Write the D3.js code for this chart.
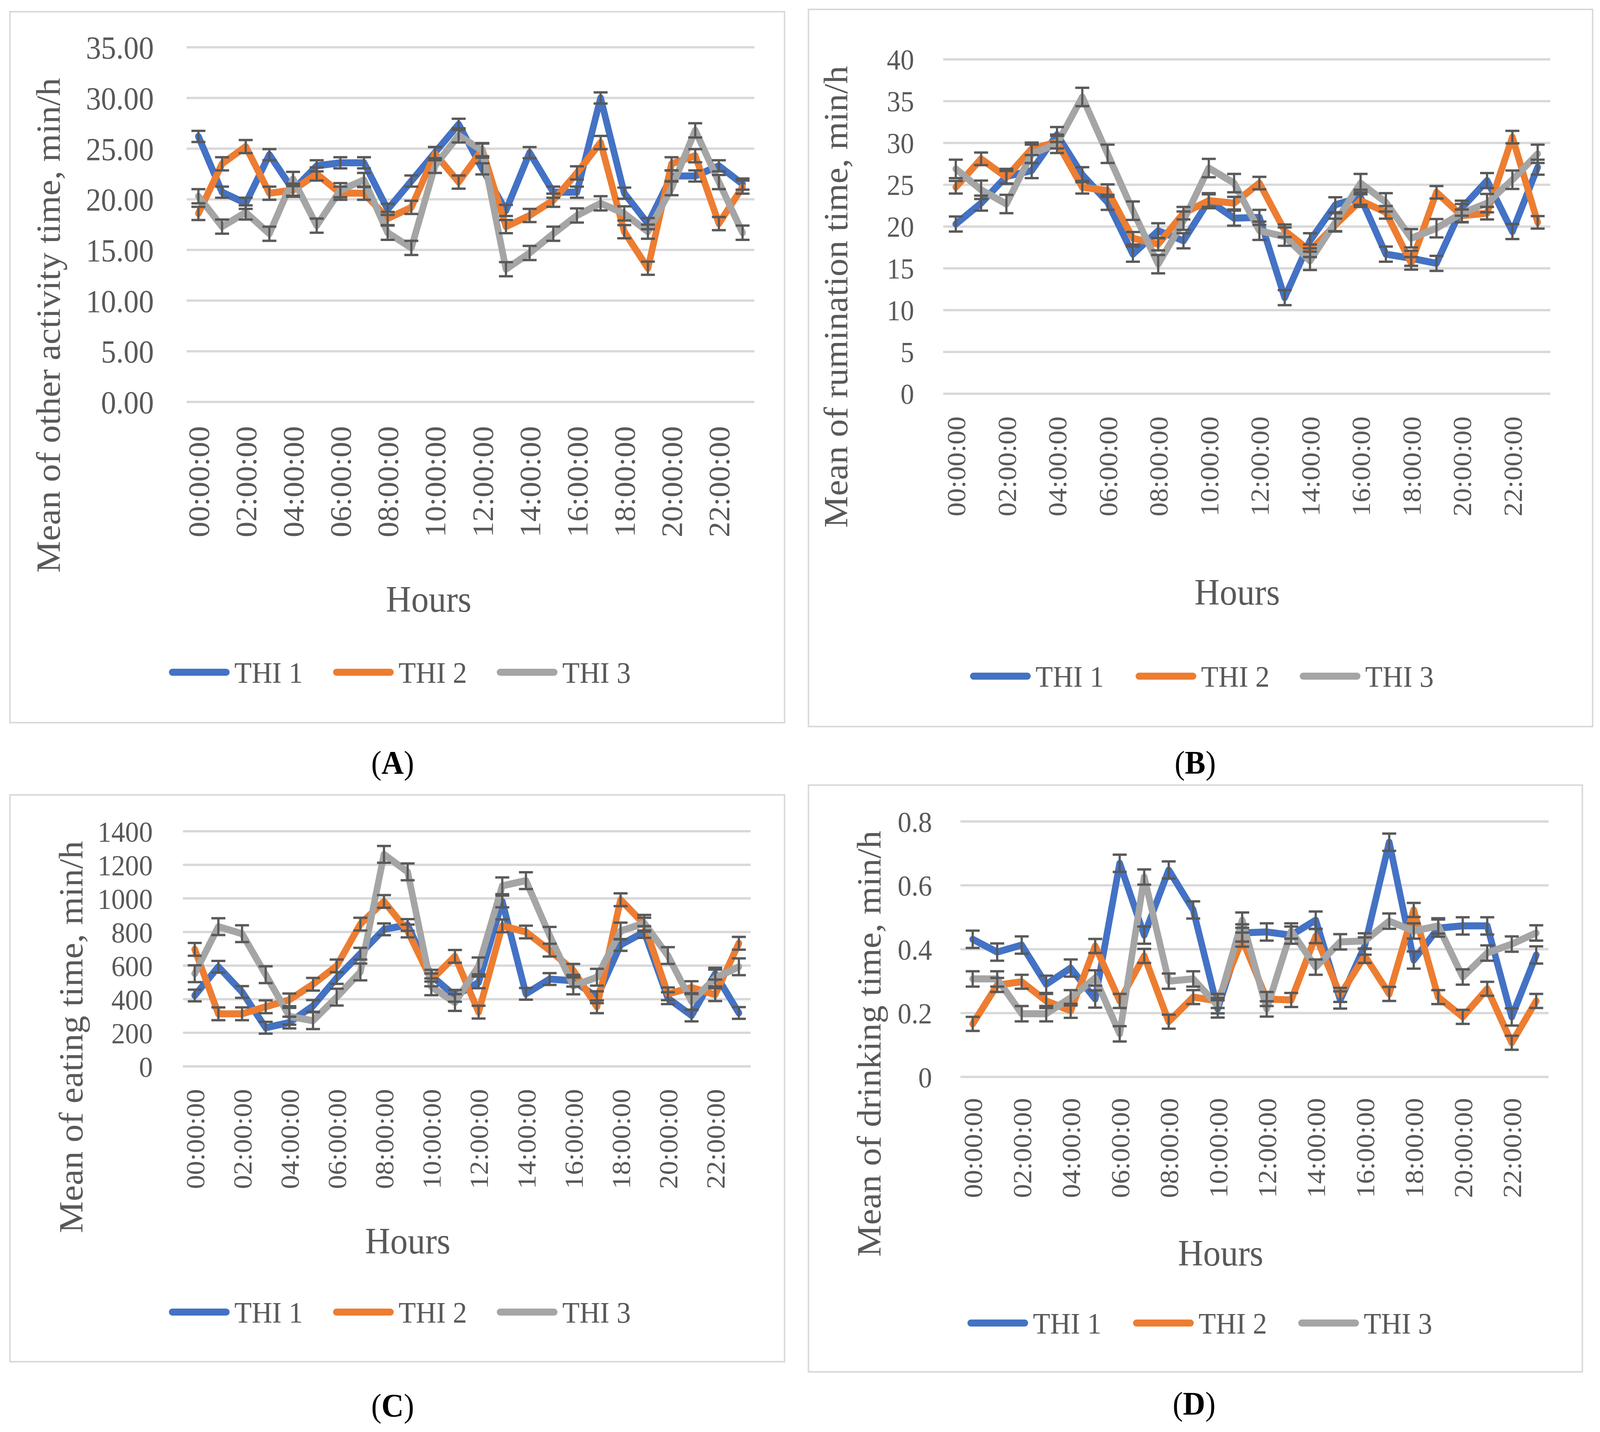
<!DOCTYPE html>
<html>
<head>
<meta charset="utf-8">
<script src="https://cdn.jsdelivr.net/npm/d3@7/dist/d3.min.js"></script>
<style>
  html, body { margin: 0; padding: 0; background: #ffffff; overflow: hidden; }
  svg { display: block; width: 100vw; height: 100vh; }
</style>
</head>
<body>
<svg id="chart" viewBox="0 0 4348 3666" preserveAspectRatio="none"></svg>
<script>
// ---------------- data ----------------
const hours = ["00:00:00","01:00:00","02:00:00","03:00:00","04:00:00","05:00:00","06:00:00","07:00:00",
  "08:00:00","09:00:00","10:00:00","11:00:00","12:00:00","13:00:00","14:00:00","15:00:00",
  "16:00:00","17:00:00","18:00:00","19:00:00","20:00:00","21:00:00","22:00:00","23:00:00"];
const hourTickLabels = ["00:00:00","02:00:00","04:00:00","06:00:00","08:00:00","10:00:00",
  "12:00:00","14:00:00","16:00:00","18:00:00","20:00:00","22:00:00"];
const seriesNames = ["THI 1", "THI 2", "THI 3"];

// (A) other activity time
const otherTHI1 = [26.2, 20.7, 19.6, 24.4, 20.9, 23.3, 23.6, 23.6, 19.0, 21.8, 24.6, 27.4, 23.0, 18.9, 24.6, 20.7, 20.7, 30.0, 20.6, 17.6, 22.3, 22.3, 23.3, 21.5];
const otherTHI2 = [18.6, 23.5, 25.2, 20.6, 20.9, 22.5, 20.6, 20.6, 18.1, 19.2, 24.5, 21.7, 24.9, 17.3, 18.4, 19.9, 22.6, 25.6, 16.8, 13.2, 23.5, 24.3, 17.6, 21.2];
const otherTHI3 = [20.3, 17.3, 18.7, 16.6, 22.0, 17.4, 20.9, 21.9, 16.7, 15.2, 23.3, 26.3, 24.8, 13.1, 14.7, 16.6, 18.4, 19.6, 18.6, 16.8, 21.1, 26.8, 21.7, 16.7];
const otherErr = [0.55, 0.65, 0.7];
const otherTicks = [0, 5, 10, 15, 20, 25, 30, 35];

// (B) rumination time
const rumTHI1 = [20.3, 22.8, 26.0, 26.7, 31.0, 26.2, 22.9, 16.7, 19.5, 18.3, 23.1, 21.0, 21.1, 11.5, 18.3, 22.6, 23.5, 16.7, 16.2, 15.6, 22.2, 25.5, 19.4, 27.1];
const rumTHI2 = [24.7, 28.1, 25.9, 29.3, 30.1, 24.7, 24.3, 18.6, 17.9, 21.6, 23.1, 22.8, 25.2, 19.5, 17.1, 20.2, 23.1, 21.7, 15.6, 24.1, 21.3, 21.6, 30.7, 20.5];
const rumTHI3 = [26.9, 24.4, 22.7, 28.7, 29.9, 35.5, 28.7, 21.9, 15.5, 20.7, 27.0, 25.2, 19.5, 18.8, 15.9, 20.5, 25.2, 22.9, 18.6, 19.8, 21.6, 22.8, 25.6, 28.7];
const rumErr = [0.9, 0.75, 1.1];
const rumTicks = [0, 5, 10, 15, 20, 25, 30, 35, 40];

// (C) eating time
const eatTHI1 = [422, 593, 443, 230, 261, 360, 526, 671, 816, 842, 540, 420, 500, 982, 432, 520, 510, 412, 723, 800, 406, 303, 552, 318];
const eatTHI2 = [697, 313, 313, 355, 396, 489, 598, 847, 982, 806, 515, 655, 323, 837, 800, 692, 572, 355, 992, 847, 432, 469, 427, 733];
const eatTHI3 = [552, 832, 790, 546, 298, 272, 412, 562, 1262, 1158, 474, 380, 598, 1075, 1106, 780, 479, 531, 806, 852, 660, 386, 526, 593];
const eatErr = [35, 38, 50];
const eatTicks = [0, 200, 400, 600, 800, 1000, 1200, 1400];

// (D) drinking time
const drinkTHI1 = [0.431, 0.391, 0.413, 0.290, 0.341, 0.244, 0.669, 0.444, 0.648, 0.523, 0.213, 0.451, 0.454, 0.444, 0.491, 0.241, 0.410, 0.735, 0.366, 0.466, 0.473, 0.473, 0.188, 0.382];
const drinkTHI2 = [0.166, 0.288, 0.298, 0.238, 0.207, 0.410, 0.238, 0.379, 0.173, 0.250, 0.238, 0.430, 0.244, 0.241, 0.441, 0.257, 0.379, 0.260, 0.523, 0.250, 0.188, 0.276, 0.107, 0.238];
const drinkTHI3 = [0.307, 0.307, 0.198, 0.198, 0.248, 0.310, 0.135, 0.626, 0.300, 0.307, 0.223, 0.491, 0.213, 0.457, 0.344, 0.423, 0.426, 0.488, 0.457, 0.473, 0.313, 0.388, 0.416, 0.451];
const drinkErr = [0.027, 0.022, 0.024];
const drinkTicks = [0, 0.2, 0.4, 0.6, 0.8];

// ---------------- styles ----------------
const colors = ["#4472C4", "#ED7D31", "#A5A5A5"];
const textColor = "#595959";
const gridColor = "#D9D9D9";
const fontFamily = "'Palatino Linotype','Book Antiqua',Palatino,'Liberation Serif',serif";

// ---------------- layout per panel ----------------
const panels = [
  { label: "A", title: "Mean of other activity time, min/h", series: [otherTHI1, otherTHI2, otherTHI3], err: otherErr,
    ticks: otherTicks, fmt: d3.format(".2f"), yMax: 35,
    box: [27, 30, 2132, 1850], x0: 507, x1: 2050, yTop: 121, yBot: 1029,
    yTickRight: 418, yTickFont: 82, xTickTop: 1091, xTickFont: 80,
    yTitleX: 130, yTitleCY: 833, hoursX: 1165, hoursY: 1533,
    legY: 1721, legX: [459, 905, 1350], capX: 1067, capY: 1952 },
  { label: "B", title: "Mean of rumination time, min/h", series: [rumTHI1, rumTHI2, rumTHI3], err: rumErr,
    ticks: rumTicks, fmt: d3.format("d"), yMax: 40,
    box: [2197, 24, 4328, 1860], x0: 2563, x1: 4213, yTop: 152, yBot: 1008,
    yTickRight: 2484, yTickFont: 74, xTickTop: 1066, xTickFont: 72,
    yTitleX: 2270, yTitleCY: 760, hoursX: 3362, hoursY: 1515,
    legY: 1731, legX: [2636, 3086, 3532], capX: 3248, capY: 1952 },
  { label: "C", title: "Mean of eating time, min/h", series: [eatTHI1, eatTHI2, eatTHI3], err: eatErr,
    ticks: eatTicks, fmt: d3.format("d"), yMax: 1400,
    box: [27, 2035, 2132, 3486], x0: 497, x1: 2040, yTop: 2128, yBot: 2730,
    yTickRight: 415, yTickFont: 75, xTickTop: 2788, xTickFont: 72,
    yTitleX: 192, yTitleCY: 2655, hoursX: 1108, hoursY: 3176,
    legY: 3359, legX: [459, 905, 1350], capX: 1067, capY: 3598 },
  { label: "D", title: "Mean of drinking time, min/h", series: [drinkTHI1, drinkTHI2, drinkTHI3], err: drinkErr,
    ticks: drinkTicks, fmt: d => d === 0 ? "0" : d3.format(".1f")(d), yMax: 0.8,
    box: [2197, 2010, 4300, 3512], x0: 2610, x1: 4208, yTop: 2103, yBot: 2757,
    yTickRight: 2533, yTickFont: 75, xTickTop: 2811, xTickFont: 72,
    yTitleX: 2360, yTitleCY: 2672, hoursX: 3317, hoursY: 3207,
    legY: 3387, legX: [2629, 3079, 3528], capX: 3245, capY: 3593 }
];

const svg = d3.select("#chart");
svg.append("rect").attr("width", 4348).attr("height", 3666).attr("fill", "#fff");

panels.forEach(p => {
  const g = svg.append("g");
  const [bx0, by0, bx1, by1] = p.box;
  g.append("rect").attr("x", bx0).attr("y", by0).attr("width", bx1 - bx0).attr("height", by1 - by0)
    .attr("fill", "#fff").attr("stroke", gridColor).attr("stroke-width", 4);

  const x = d3.scalePoint().domain(hours).range([p.x0, p.x1]).padding(0.5);
  const y = d3.scaleLinear().domain([0, p.yMax]).range([p.yBot, p.yTop]);

  // gridlines
  g.append("g").selectAll("line").data(p.ticks).join("line")
    .attr("x1", p.x0).attr("x2", p.x1)
    .attr("y1", d => y(d)).attr("y2", d => y(d))
    .attr("stroke", gridColor).attr("stroke-width", 6);

  // y axis labels
  const yAxis = d3.axisLeft(y).tickValues(p.ticks).tickFormat(p.fmt).tickSize(0).tickPadding(0);
  const yg = g.append("g").attr("transform", `translate(${p.yTickRight},0)`).call(yAxis);
  yg.select(".domain").remove();
  yg.selectAll("text").attr("font-family", fontFamily).attr("font-size", p.yTickFont)
    .attr("fill", textColor).attr("x", 0).attr("dy", "0.35em");

  // x axis labels (rotated)
  const xAxis = d3.axisBottom(x).tickValues(hourTickLabels).tickSize(0).tickPadding(0);
  const xg = g.append("g").attr("transform", `translate(0,${p.yBot})`).call(xAxis);
  xg.select(".domain").remove();
  xg.selectAll("text").attr("font-family", fontFamily).attr("font-size", p.xTickFont)
    .attr("fill", textColor)
    .attr("transform", "rotate(-90)")
    .attr("text-anchor", "end")
    .attr("x", -(p.xTickTop - p.yBot)).attr("y", 0).attr("dy", "0.35em");

  // lines
  const line = d3.line().x((d, i) => x(hours[i])).y(d => y(d));
  p.series.forEach((s, k) => {
    g.append("path").datum(s).attr("d", line)
      .attr("fill", "none").attr("stroke", colors[k]).attr("stroke-width", 18)
      .attr("stroke-linejoin", "round").attr("stroke-linecap", "round");
  });

  // error bars
  p.series.forEach((s, k) => {
    const e = p.err[k];
    const eb = g.append("g").attr("stroke", textColor).attr("stroke-width", 6);
    eb.selectAll(".stem").data(s).join("line")
      .attr("x1", (d, i) => x(hours[i])).attr("x2", (d, i) => x(hours[i]))
      .attr("y1", d => y(d - e)).attr("y2", d => y(d + e));
    eb.selectAll(".capT").data(s).join("line")
      .attr("x1", (d, i) => x(hours[i]) - 19).attr("x2", (d, i) => x(hours[i]) + 19)
      .attr("y1", d => y(d + e)).attr("y2", d => y(d + e));
    eb.selectAll(".capB").data(s).join("line")
      .attr("x1", (d, i) => x(hours[i]) - 19).attr("x2", (d, i) => x(hours[i]) + 19)
      .attr("y1", d => y(d - e)).attr("y2", d => y(d - e));
  });

  // axis titles
  g.append("text").attr("transform", `translate(${p.yTitleX},${p.yTitleCY}) rotate(-90)`)
    .attr("text-anchor", "middle").attr("dy", "0.35em")
    .attr("font-family", fontFamily).attr("font-size", 92).attr("fill", textColor)
    .text(p.title);
  g.append("text").attr("x", p.hoursX).attr("y", p.hoursY).attr("dy", "0.35em")
    .attr("text-anchor", "middle").attr("font-family", fontFamily).attr("font-size", 95)
    .attr("fill", textColor).text("Hours");

  // legend
  seriesNames.forEach((name, k) => {
    const lx = p.legX[k];
    g.append("line").attr("x1", lx + 9).attr("x2", lx + 156).attr("y1", p.legY).attr("y2", p.legY)
      .attr("stroke", colors[k]).attr("stroke-width", 18).attr("stroke-linecap", "round");
    g.append("text").attr("x", lx + 178).attr("y", p.legY).attr("dy", "0.35em")
      .attr("font-family", fontFamily).attr("font-size", 77).attr("fill", textColor).text(name);
  });

  // panel caption
  const cap = svg.append("text").attr("x", p.capX).attr("y", p.capY).attr("dy", "0.35em")
    .attr("text-anchor", "middle").attr("font-family", fontFamily).attr("font-size", 84).attr("fill", "#000");
  cap.append("tspan").text("(");
  cap.append("tspan").attr("font-weight", "bold").text(p.label);
  cap.append("tspan").text(")");
});
</script>
</body>
</html>
